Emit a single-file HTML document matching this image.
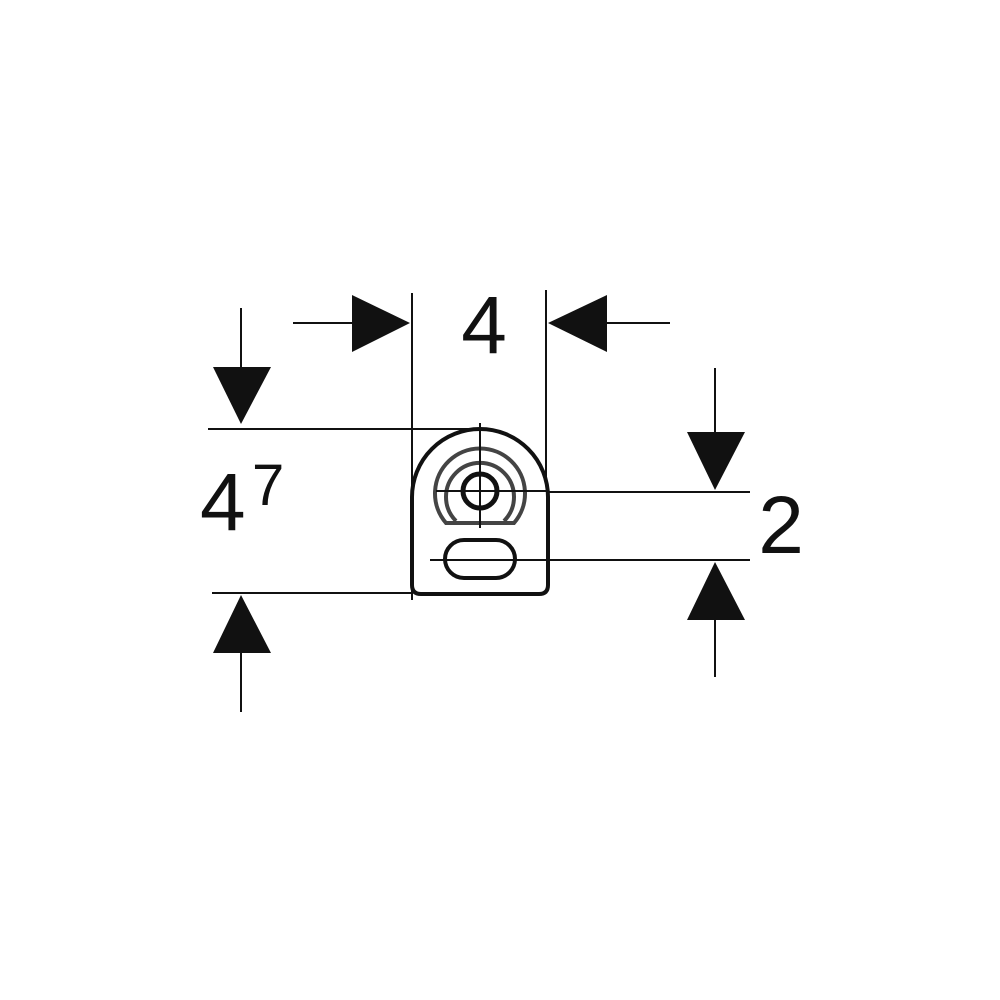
<!DOCTYPE html>
<html><head><style>body{margin:0;background:#fff}svg{display:block}</style></head>
<body>
<svg width="1000" height="1000" viewBox="0 0 1000 1000" xmlns="http://www.w3.org/2000/svg">
<g stroke="#111" stroke-width="2" fill="none">
<line x1="412" y1="293" x2="412" y2="600"/>
<line x1="546" y1="290" x2="546" y2="480"/>
<line x1="293" y1="323" x2="360" y2="323"/>
<line x1="600" y1="323" x2="670" y2="323"/>
<line x1="208" y1="429" x2="482" y2="429"/>
<line x1="212" y1="593" x2="412" y2="593"/>
<line x1="241" y1="308" x2="241" y2="380"/>
<line x1="241" y1="640" x2="241" y2="712"/>
<line x1="548" y1="492" x2="750" y2="492"/>
<line x1="430" y1="560" x2="750" y2="560"/>
<line x1="715" y1="368" x2="715" y2="440"/>
<line x1="715" y1="610" x2="715" y2="677"/>
</g>
<g fill="#111">
<polygon points="410,323 352,295 352,352"/>
<polygon points="548,323 607,295 607,352"/>
<polygon points="241,424 213,367 271,367"/>
<polygon points="241,595 213,653 271,653"/>
<polygon points="715,490 687,432 745,432"/>
<polygon points="715,562 687,620 745,620"/>
</g>
<path d="M412,497 A68,68 0 0 1 548,497 L548,585 Q548,594 539,594 L421,594 Q412,594 412,585 Z" stroke="#111" stroke-width="4" fill="none"/>
<g stroke="#444" stroke-width="4" fill="none">
<path d="M446,523 A45,45 0 1 1 514,523 Z"/>
<path d="M456,521 A34,34 0 1 1 504,521"/>
</g>
<circle cx="480" cy="491" r="17" stroke="#111" stroke-width="5" fill="none"/>
<rect x="445" y="540" width="70" height="38" rx="19" stroke="#111" stroke-width="4" fill="none"/>
<g stroke="#111" stroke-width="2">
<line x1="480" y1="423" x2="480" y2="528"/>
<line x1="436" y1="491" x2="548" y2="491"/>
</g>
<g font-family="Liberation Sans, sans-serif" fill="#111">
<text x="484" y="353" font-size="82" text-anchor="middle">4</text>
<text x="200" y="530" font-size="82">4</text>
<text x="252" y="505" font-size="58">7</text>
<text x="781" y="553" font-size="82" text-anchor="middle">2</text>
</g>
</svg>
</body></html>
